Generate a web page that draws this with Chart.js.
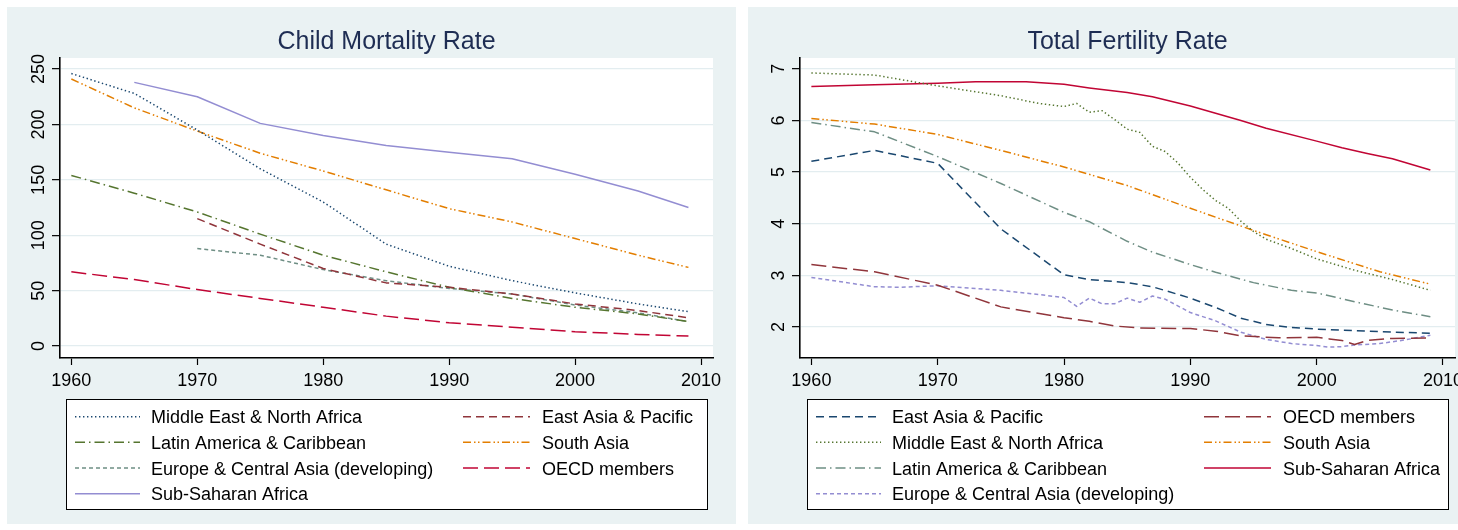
<!DOCTYPE html>
<html>
<head>
<meta charset="utf-8">
<title>Child Mortality and Total Fertility Rates</title>
<script src="https://cdn.jsdelivr.net/npm/chart.js@4.4.1/dist/chart.umd.min.js"></script>
<style>
  html, body { margin: 0; padding: 0; background: #ffffff; }
  body { width: 1458px; height: 530px; position: relative; overflow: hidden; }
  .panel { position: absolute; top: 7px; }
  canvas { display: block; }
</style>
</head>
<body>
<div class="panel" style="left:7px;"><canvas id="cm" width="729" height="517"></canvas></div>
<div class="panel" style="left:748px;"><canvas id="tfr" width="710" height="517"></canvas></div>
<script>
// ---- Child mortality (per 1,000), five-year points ----
const cmYears = [1960, 1965, 1970, 1975, 1980, 1985, 1990, 1995, 2000, 2005, 2009];
const cmMENA = [246, 228, 195, 160, 130, 92, 72, 59, 48, 38, 31];
const cmEAP  = [null, null, 115, 92, 70, 57, 53, 47, 38, 32, 25.5];
const cmLAC  = [154, 138, 121, 101, 82, 67, 53, 43, 35, 29, 22];
const cmSA   = [241, 215, 194, 174, 158, 141, 124, 112, 97, 82, 71];
const cmECA  = [null, null, 88, 82, 69, 59, 52, 47, 37, 30, 22];
const cmOECD = [67, 60, 51, 43, 35, 27, 21, 17, 13, 10.5, 9];
const cmSSA  = [null, 238, 225, 201, 190, 181, 175, 169, 155, 140, 125];
const cmYTicks = [0, 50, 100, 150, 200, 250];

// ---- Total fertility rate (births per woman) ----
const tfrEAPYears = [1960, 1965, 1970, 1975, 1980, 1982, 1985, 1987, 1990, 1992, 1994, 1996, 1998, 2000, 2005, 2009];
const tfrEAP      = [5.21, 5.42, 5.17, 3.90, 3.01, 2.92, 2.86, 2.78, 2.56, 2.38, 2.17, 2.05, 1.99, 1.96, 1.91, 1.88];

const tfrOECDYears = [1960, 1965, 1970, 1975, 1980, 1982, 1984, 1986, 1990, 1992, 1994, 1997, 2000, 2001, 2002, 2003, 2004, 2006, 2009];
const tfrOECD      = [3.21, 3.07, 2.81, 2.39, 2.18, 2.11, 2.02, 1.98, 1.97, 1.92, 1.83, 1.79, 1.80, 1.77, 1.74, 1.66, 1.74, 1.78, 1.79];

const tfrMENAYears = [1960, 1965, 1970, 1975, 1978, 1980, 1981, 1982, 1983, 1984, 1985, 1986, 1987, 1988, 1989, 1990, 1991, 1992, 1993, 1994, 1995, 1996, 1998, 2000, 2003, 2006, 2009];
const tfrMENA      = [6.92, 6.88, 6.67, 6.48, 6.33, 6.27, 6.33, 6.16, 6.19, 6.02, 5.83, 5.77, 5.50, 5.40, 5.18, 4.90, 4.66, 4.45, 4.30, 4.05, 3.85, 3.70, 3.52, 3.32, 3.10, 2.92, 2.71];

const tfrSAYears = [1960, 1965, 1970, 1975, 1980, 1985, 1990, 1995, 2000, 2005, 2009];
const tfrSA      = [6.04, 5.93, 5.73, 5.42, 5.10, 4.74, 4.30, 3.87, 3.46, 3.07, 2.83];

const tfrLACYears = [1960, 1965, 1970, 1975, 1980, 1982, 1985, 1987, 1990, 1992, 1995, 1998, 2000, 2003, 2006, 2009];
const tfrLAC      = [5.96, 5.78, 5.30, 4.78, 4.22, 4.04, 3.66, 3.45, 3.21, 3.06, 2.86, 2.71, 2.66, 2.49, 2.33, 2.20];

const tfrSSAYears = [1960, 1965, 1970, 1973, 1977, 1980, 1982, 1985, 1987, 1990, 1992, 1994, 1996, 2000, 2002, 2004, 2006, 2009];
const tfrSSA      = [6.66, 6.69, 6.72, 6.75, 6.75, 6.70, 6.63, 6.54, 6.46, 6.28, 6.14, 6.00, 5.85, 5.60, 5.47, 5.36, 5.26, 5.04];

const tfrECAYears = [1960, 1965, 1967, 1970, 1975, 1978, 1980, 1981, 1982, 1983, 1984, 1985, 1986, 1987, 1988, 1990, 1992, 1994, 1996, 1998, 2000, 2001, 2002, 2003, 2005, 2007, 2009];
const tfrECA      = [2.96, 2.78, 2.77, 2.80, 2.71, 2.63, 2.57, 2.40, 2.56, 2.45, 2.45, 2.56, 2.48, 2.60, 2.54, 2.28, 2.12, 1.90, 1.76, 1.68, 1.64, 1.61, 1.62, 1.65, 1.68, 1.75, 1.84];
const tfrYTicks = [2, 3, 4, 5, 6, 7];

const xTicks = [1960, 1970, 1980, 1990, 2000, 2010];

// ---- Palette and line patterns ----
const C = {
  navy: '#1a476f', maroon: '#90353b', green: '#55752f', orange: '#e37e00',
  teal: '#6e8e84', cranberry: '#c10534', lavender: '#938dd2'
};
const P = {
  solid: [], dot: [1.4, 2.6], dash: [8, 5], longdash: [15, 6],
  dashdot: [10, 4, 1.5, 4], dashdotdot: [8, 3, 1.5, 2.5, 1.5, 3], shortdash: [4, 3]
};
const FONT = '"Liberation Sans", Arial, Helvetica, sans-serif';

function pairs(xs, ys) {
  const out = [];
  xs.forEach((x, i) => { if (ys[i] !== null) out.push({ x: x, y: ys[i] }); });
  return out;
}
function series(label, xs, ys, color, dash) {
  return {
    label: label, data: pairs(xs, ys), borderColor: color, backgroundColor: color,
    borderWidth: 1.5, borderDash: dash, borderCapStyle: 'butt', borderJoinStyle: 'round',
    pointRadius: 0, pointHoverRadius: 0, tension: 0, fill: false
  };
}

// Panel background, plot area, title, tick labels and a two-column legend
const panelPlugin = {
  id: 'panel',
  beforeDraw(chart) {
    const { ctx, chartArea: a, width, height } = chart;
    ctx.save();
    ctx.fillStyle = '#eaf2f3';
    ctx.fillRect(0, 0, width, height);
    ctx.fillStyle = '#ffffff';
    ctx.fillRect(a.left, a.top, a.right - a.left, a.bottom - a.top);
    ctx.restore();
  },
  afterDraw(chart, args, opts) {
    const { ctx, chartArea: a } = chart;
    const xs = chart.scales.x, ys = chart.scales.y;
    ctx.save();

    // title
    ctx.fillStyle = '#1e2d53';
    ctx.font = '25px ' + FONT;
    ctx.textAlign = 'center';
    ctx.textBaseline = 'alphabetic';
    ctx.fillText(opts.title, (a.left + a.right) / 2, 42);

    // x tick labels
    ctx.fillStyle = '#000000';
    ctx.font = '18px ' + FONT;
    xs.ticks.forEach(t => ctx.fillText(String(t.value), xs.getPixelForValue(t.value), a.bottom + 28));

    // y tick labels, turned to read upward
    ys.ticks.forEach(t => {
      ctx.save();
      ctx.translate(a.left - 16.5, ys.getPixelForValue(t.value));
      ctx.rotate(-Math.PI / 2);
      ctx.textAlign = 'center';
      ctx.fillText(String(t.value), 0, 0);
      ctx.restore();
    });

    // legend box
    const bx = 59.5, by = 392.5, bw = 641, bh = 110;
    ctx.fillStyle = '#ffffff';
    ctx.fillRect(bx, by, bw, bh);
    ctx.strokeStyle = '#000000';
    ctx.lineWidth = 1;
    ctx.setLineDash([]);
    ctx.strokeRect(bx, by, bw, bh);

    const rows = [409.7, 435.3, 461, 486.7];
    ctx.font = '18px ' + FONT;
    ctx.textAlign = 'left';
    chart.data.datasets.forEach((ds, i) => {
      const col = i % 2, y = rows[Math.floor(i / 2)];
      const x0 = col ? 456 : 68, x1 = col ? 523 : 133, tx = col ? 535 : 144;
      ctx.strokeStyle = ds.borderColor;
      ctx.lineWidth = ds.borderWidth;
      ctx.lineCap = 'butt';
      ctx.setLineDash(ds.borderDash);
      ctx.beginPath();
      ctx.moveTo(x0, y);
      ctx.lineTo(x1, y);
      ctx.stroke();
      ctx.setLineDash([]);
      ctx.fillStyle = '#000000';
      ctx.fillText(ds.label, tx, y + 6.5);
    });
    ctx.restore();
  }
};

function makeChart(id, title, datasets, yMin, yMax, yTicks, padLeft, padRight) {
  return new Chart(document.getElementById(id), {
    type: 'line',
    data: { datasets: datasets },
    plugins: [panelPlugin],
    options: {
      responsive: false,
      animation: false,
      devicePixelRatio: 1,
      events: [],
      layout: { padding: { top: 51, left: padLeft, right: padRight, bottom: 146 } },
      plugins: {
        legend: { display: false },
        title: { display: false },
        tooltip: { enabled: false },
        panel: { title: title }
      },
      scales: {
        x: {
          type: 'linear', min: 1959.1, max: 2010.95,
          afterBuildTicks: s => { s.ticks = xTicks.map(v => ({ value: v })); },
          afterFit: s => { s.height = 20; s.paddingLeft = 0; s.paddingRight = 0; },
          ticks: { display: false },
          grid: { drawOnChartArea: false, drawTicks: true, tickLength: 7, tickColor: '#000000', tickWidth: 1.2 },
          border: { display: true, color: '#000000', width: 1.6 }
        },
        y: {
          type: 'linear', min: yMin, max: yMax,
          afterBuildTicks: s => { s.ticks = yTicks.map(v => ({ value: v })); },
          afterFit: s => { s.width = 30; s.paddingTop = 0; s.paddingBottom = 0; },
          ticks: { display: false },
          grid: { color: '#e3edf0', lineWidth: 1.3, drawTicks: true, tickLength: 8, tickColor: '#000000', tickWidth: 1.2 },
          border: { display: true, color: '#000000', width: 1.6 }
        }
      }
    }
  });
}

makeChart('cm', 'Child Mortality Rate', [
  series('Middle East & North Africa', cmYears, cmMENA, C.navy, P.dot),
  series('East Asia & Pacific', cmYears, cmEAP, C.maroon, P.dash),
  series('Latin America & Caribbean', cmYears, cmLAC, C.green, P.dashdot),
  series('South Asia', cmYears, cmSA, C.orange, P.dashdotdot),
  series('Europe & Central Asia (developing)', cmYears, cmECA, C.teal, P.shortdash),
  series('OECD members', cmYears, cmOECD, C.cranberry, P.longdash),
  series('Sub-Saharan Africa', cmYears, cmSSA, C.lavender, P.solid)
], -10.8, 260, cmYTicks, 23, 23);

makeChart('tfr', 'Total Fertility Rate', [
  series('East Asia & Pacific', tfrEAPYears, tfrEAP, C.navy, P.dash),
  series('OECD members', tfrOECDYears, tfrOECD, C.maroon, P.longdash),
  series('Middle East & North Africa', tfrMENAYears, tfrMENA, C.green, P.dot),
  series('South Asia', tfrSAYears, tfrSA, C.orange, P.dashdotdot),
  series('Latin America & Caribbean', tfrLACYears, tfrLAC, C.teal, P.dashdot),
  series('Sub-Saharan Africa', tfrSSAYears, tfrSSA, C.cranberry, P.solid),
  series('Europe & Central Asia (developing)', tfrECAYears, tfrECA, C.lavender, P.shortdash)
], 1.40, 7.21, tfrYTicks, 22, 3);
</script>
</body>
</html>
